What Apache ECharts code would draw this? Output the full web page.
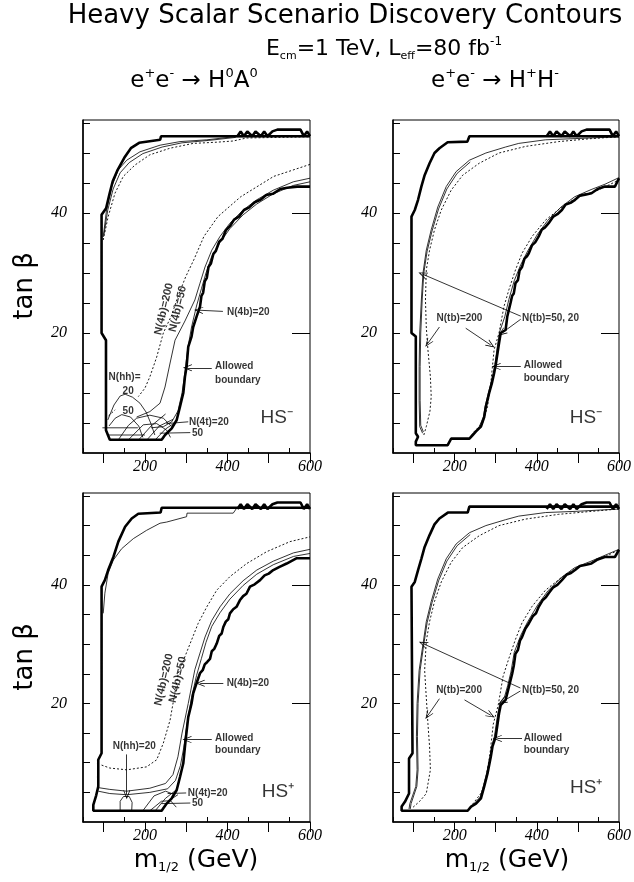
<!DOCTYPE html>
<html>
<head>
<meta charset="utf-8">
<script src="https://cdn.jsdelivr.net/npm/echarts@6/dist/echarts.min.js"></script>
<style>
  html, body { margin: 0; padding: 0; background: #fff; }
  #main { width: 634px; height: 882px; }
</style>
</head>
<body>
<div id="main"></div>
<script>
// ticks (m1/2 in GeV, tan beta)
var xLabelTicks = [200, 400, 600];
var xMajorTicks = [100, 200, 300, 400, 500, 600];
var xMinorTicks = [50, 150, 250, 350, 450, 550];
var yLabelTicks = [20, 40];
var yMinorTicks = [5, 10, 15, 20, 25, 30, 35, 40, 45, 50, 55];

// wavy piece on top of every allowed boundary
var topWave = [[424,52.8],[432,53.6],[440,52.8],[448,53.6],[460,52.8],[468,53.6],[481,52.8],[489,53.6],[497,52.8],[509,53.6],[521,53.9],[577,53.9],[585,52.8],[593,53.6],[600,52.8]];

// ---- panel 1 : e+e- -> H0A0, HS- ----
var p1Boundary = [[600,52.8],[239,52.8],[237,52.2],[186,51.7],[166,50.8],[150,49.2],[134,47.2],[122,45.3],[114,43.1],[106,40.8],[95,39.7],[95,20],[105.7,18.8],[105.7,3.8],[115,2.2],[240.6,2.2],[248.7,3],[265,4.1],[277,5.5],[285,7.7],[293,10],[297,12.7],[301,14.4],[305,17.7],[313,19.4],[317,21],[325,22.7],[333.5,24.4],[337,26.2],[341,26.7],[345,28.6],[350,29.2],[354,31],[360,31.6],[366,33.2],[372,33.7],[380,35.2],[388,35.7],[396,37.1],[406,37.8],[416,38.9],[428,39.4],[440,40.5],[452,40.9],[466,41.8],[480,42.2],[494,43],[510,43.2],[528,44],[545,44.2],[569,44.4],[600,44.4]];
var p1Upper20 = [[99,36],[107,40.5],[119.5,44.4],[135.5,47.2],[156,48.8],[188,50.2],[236.6,51.3],[285,51.9],[350,52.2],[414,52.7],[600,52.8]];
var p1Upper50 = [[101,36.5],[110,40.5],[123,44],[140,46.7],[162,48.4],[195,49.9],[242,51],[290,51.7],[355,52.1],[420,52.6]];
var p1Upper200 = [[99,35.5],[111,39.4],[127.5,43.3],[147.6,46.1],[176,48],[212,49.7],[261,50.8],[317,51.6],[374,51.8],[414,52],[446,52.5],[600,52.7]];
var p1Lower200 = [[600,48.1],[512,46.1],[432,42.7],[377,39.4],[343,36.1],[318.5,32.2],[299,29.4],[280,26.1],[265,23],[244.6,20],[228.6,16],[212,12.7],[200,10.8],[184,9.4]];
var p1Lower50 = [[600,45.8],[559.6,45.2],[511,43.8],[471,42.2],[438,40.5],[406,38.3],[382,36.1],[362,33.8],[345.6,31],[333.5,28.3],[321,25.5],[297,22],[273,18.8],[261,15],[248.7,11],[236.6,8.3],[212,6.9],[180,6]];
var p1Lower20 = [[600,45.2],[560,44.6],[511,43.2],[471,41.5],[438,39.7],[406,37.4],[382,35.1],[362,32.8],[348,30],[337,27.4],[325,24.5],[313,21],[304,17.5],[297,13.5],[290,10],[280,7],[265,5.2],[245,4.4],[215,4.2]];
var p1HH20 = [[110,5.5],[125,8],[140,9.5],[152,9.8],[170,9.3],[188,8.3],[203,6.8],[214,5],[224,3]];
var p1HH50 = [[113,4.5],[128,5.8],[144,6.4],[165,6],[185,4.5],[195,2.6]];
var p1HH50dot = [[112,6.2],[128,7.2]];
var p1Flat1 = [[97,4.2],[183,4.2]];
var p1Flat2 = [[108,3],[200,3]];
var p1T20 = [[135.6,2.2],[160,4.6],[180,5.8],[212,6.3],[244.6,5.8],[265,4.4]];
var p1T50 = [[160,2.2],[196,4.7],[228.6,4.9],[252.7,3.8],[262,2.6]];
var p1Hatch = [[[185,2.2],[215,4.5],[250,6.5]],[[205,2.2],[235,4.5],[268,5.6]],[[225,2.2],[250,4],[276,5.2]]];

// ---- panel 2 : e+e- -> H+H-, HS- ----
var p2Boundary = [[600,52.8],[236,52.8],[231,51.9],[183,51.8],[163,50.8],[151,50],[139,48.3],[127,46.3],[119,44.4],[111,42.2],[103,40.5],[95,39.4],[95,20],[105.5,19.4],[105.5,3.3],[111,2.7],[105.5,1.9],[105.5,1.3],[183,1.3],[191.6,2.4],[236,2.4],[244,3],[252,3.6],[264,4.4],[272,6],[276,7.7],[284,10],[290.5,11.6],[296,13.3],[300,14.7],[308,18.3],[312,20],[324,20.5],[328,22.7],[336,25],[340,26.2],[344,26.6],[348,28.3],[354,28.8],[358,30.4],[364,31],[370,32.4],[376,32.8],[380.5,33.3],[388,34.6],[396,35.1],[404.6,36.1],[412,37.2],[420,37.6],[428.8,38.3],[440,39.4],[450,39.8],[461,40.5],[470,41.4],[482,41.7],[493,42.2],[505,42.9],[520,43.1],[533,43.3],[548,44],[565.6,44.4],[590,44.4],[600,45.8]];
var p2Upper20 = [[122,3.3],[115,4.4],[113.6,8.8],[113.6,14.4],[115,20],[119,25.5],[123,30],[131,33.8],[143,37.2],[159,41],[179.5,44.4],[203.6,46.9],[236,48.8],[276,50],[324,51],[356,51.6],[421,52.2],[493,52.4],[600,52.7]];
var p2Upper50 = [[124,3.5],[117.5,4.6],[116,8.8],[116,14.4],[117.5,20],[121,25.5],[125,30],[133,33.6],[145,37],[161,40.7],[181,44],[206,46.6],[238,48.5]];
var p2Upper200 = [[125,3],[131,4.4],[140,7],[143,9.4],[141,12.7],[135,17.2],[131,21],[129,25.5],[131,30.5],[139,33.8],[151,37.2],[167.5,40.5],[191.6,43.8],[219.6,46.3],[260,48.3],[308,50],[372.6,51.1],[453,51.9],[533,52.4],[600,52.7]];
var p2Lower200 = [[236,2.4],[248,3.6],[268,5],[280,7.7],[288,11.6],[296,17.2],[308,20],[320,24.4],[332,27.2],[348,30.5],[364,33.3],[388.6,36.1],[421,38.8],[461,41],[501,42.7],[549,43.8],[600,45.5]];
var p2Lower50 = [[240,2.6],[260,4.4],[270,6],[274,7.7],[282,10],[288,11.6],[294,13.3],[298,14.7],[305,18.3],[310,20.3],[322,22.7],[332,25.6],[345,28.7],[361,31.4],[378,33.7],[402,36.5],[427,38.8],[459,41],[492,42.7],[532,43.9],[566,44.8],[600,45.9]];

// ---- panel 3 : e+e- -> H0A0, HS+ ----
var p3Boundary = [[600,53],[240.6,53],[238,52.2],[184,52],[168,51.2],[152,49.8],[135.6,47.3],[123.6,44.7],[111,42.5],[103,40.8],[95,39.7],[95,11.6],[87,10.5],[87,6],[82,4.5],[75,2.9],[75,1.9],[240.6,1.9],[244.6,2.3],[252.7,3.1],[265,4],[277,5.4],[285,7.6],[293,9.9],[297,12.7],[299.6,14.4],[305,17.7],[313,20],[317,21.7],[325,23.4],[333.5,25.1],[340,25.6],[345,26.6],[351,27],[357.7,27.5],[362,28.8],[368,29.2],[374,30.1],[380,31.4],[386,31.8],[390,32.9],[396,33.8],[402,34.2],[406,35.2],[414,35.9],[422,36.3],[430,37.4],[438,38.1],[446,38.5],[454.6,39.7],[466,40.1],[479,40.8],[490,41.6],[500,41.9],[511,42.5],[525,43],[543.5,43.6],[568,44.5],[600,44.5]];
var p3Upper = [[99,35.2],[103,38.6],[111,42],[123.6,44.2],[143.6,46.1],[172,47.8],[204,49.2],[236.6,50.4],[252.7,50.6],[301,51.5],[302,52.1],[414,52.1],[422,52.9],[600,52.9]];
var p3Lower200 = [[95,9.6],[115,9.1],[156,8.8],[204,9.3],[228.6,10.5],[244.6,13.3],[261,17.2],[281,25.1],[297,27.9],[313,30.7],[329,33.5],[350,36.3],[374,39.1],[406,41.4],[446.6,43.6],[495,45.6],[551.6,47.3],[600,48.1]];
var p3Lower50 = [[600,46],[560,45.4],[511,44],[471,42.5],[438,40.7],[406,38.5],[382,36.3],[362,34],[345.6,31.2],[333.5,28.5],[321,25.7],[305,20],[290,15],[280,11],[268,8],[250,6.5],[212,5.7],[156,5.2],[115,5.5],[87,5.8]];
var p3Lower20 = [[600,45.3],[560,44.8],[511,43.4],[471,41.8],[438,39.9],[406,37.6],[382,35.3],[362,33],[348,30.3],[337,27.6],[325,24.7],[313,21],[302,16.5],[294,12.5],[286,9.5],[274,7],[255,5.6],[212,5],[156,4.6],[115,4.8],[87,5.2]];
var p3HH20 = [[140,1.9],[140,3.5],[148,4.3],[162,4.3],[169,3.3],[168,1.9]];
var p3T20 = [[195,1.9],[222,4.4],[250,5.2],[272,4.6]];
var p3T50 = [[212,1.9],[240,3.5],[262,3.6],[276,2.5]];
var p3Hatch = [[[225,1.9],[250,4],[272,5.2]],[[240,1.9],[262,3.8],[280,4.6]]];

// ---- panel 4 : e+e- -> H+H-, HS+ ----
var p4Boundary = [[600,53.2],[235.8,53.2],[231.7,52.2],[183.5,52.2],[163,51.2],[151,50.2],[139,48.4],[127,46.4],[119,44.4],[111,42.5],[103,40.5],[95,39.7],[97.5,39.7],[97.5,11.6],[89,10.7],[89,4.8],[79,3.4],[71,2.6],[71,1.9],[231.7,1.9],[240,2.6],[252,3.1],[264,4],[272,6],[280,8.2],[288,11],[292,12.7],[300,14.4],[308,18.3],[312,19.7],[324,20.6],[332,22.8],[340,25],[344,26.4],[348,28.4],[354,29],[359,30.6],[364,31.2],[372,32.6],[380.5,33.5],[390,34.7],[398,35.2],[404.6,36.3],[414,37.4],[422,37.9],[428.8,38.6],[440,39.6],[450,40],[461,40.8],[472,41.7],[483,42],[493,42.5],[505,43.2],[520,43.4],[533,43.6],[548,44.3],[565.6,44.7],[590,44.7],[600,45.9]];
var p4Upper20 = [[89,2.2],[91,3.1],[105.5,6],[108.6,8.8],[107,14.4],[108.6,20],[113.6,25.6],[123,30],[131,33.8],[143,37.2],[159,41],[179.5,44.4],[203.6,46.9],[236,48.8],[276,50],[324,51],[356,51.6],[421,52.2],[493,52.4],[600,52.8]];
var p4Upper50 = [[92,2.2],[94,3.1],[108,6],[111,8.8],[109.5,14.4],[111,20],[116,25.6],[125,30],[133,33.6],[145,37],[161,40.7],[181,44],[206,46.6],[238,48.5]];
var p4Upper200 = [[99,2.5],[115,3.5],[131,4.8],[141,8.8],[139,12.7],[135,16.6],[131,21],[127,25.6],[131,30.5],[139,33.8],[151,37.2],[167.5,40.5],[191.6,43.8],[219.6,46.3],[260,48.3],[308,50],[372.6,51.1],[453,51.9],[533,52.4],[600,52.8]];
var p4Lower200 = [[232,1.9],[248,3.4],[266,5],[278,8],[286,11.5],[294,16.5],[306,19.7],[318,24.6],[332,27.6],[348,30.8],[364,33.6],[388.6,36.4],[421,39.1],[461,41.3],[501,43],[549,44.2],[600,45.9]];
var p4Lower50 = [[236,2.2],[250,3.3],[262,4.2],[270,6],[278,8.2],[286,11],[290,12.7],[297,14.5],[305,18.3],[310,20],[321,21],[329,23],[337,25.3],[345,28.6],[361,31.5],[378,33.8],[402,36.6],[427,39],[459,41.2],[492,42.9],[532,44],[566,45],[600,46]];

// ---- text and arrows, per panel ----
var p1Notes = [[399,23.5,'N(4b)=20'],[370,14.4,'Allowed'],[370,12.2,'boundary'],[112,12.6,'N(hh)='],[146,10.3,'20'],[146,6.9,'50'],[307,5.2,'N(4t)=20'],[314,3.3,'50']];
var p1Rot = [[246,24,'N(4b)=200'],[280,24,'N(4b)=50']];
var p1Arrows = [[[389,23.6],[330,23.8]],[[362,14.2],[303,14.2]]];
var p1Ticks = [[[305,5.2],[252,4.9]],[[310,3.4],[236,3.3]]];

var p2Notes = [[156,22.5,'N(tb)=200'],[364,22.5,'N(tb)=50, 20'],[368,14.6,'Allowed'],[368,12.4,'boundary']];
var p2Arrows = [[[163,21],[135,18.3]],[[227,20.8],[288,18]],[[361,22.8],[122,29.8]],[[361,22.3],[315,20]],[[361,14.4],[301,14.4]]];

var p3Notes = [[122,12.7,'N(hh)=20'],[398,23.4,'N(4b)=20'],[370,14.2,'Allowed'],[370,12.1,'boundary'],[304,4.9,'N(4t)=20'],[314,3.2,'50']];
var p3Rot = [[246,24,'N(4b)=200'],[280,24,'N(4b)=50']];
var p3Arrows = [[[156,11.4],[156,4.6]],[[390,23.4],[334,23.4]],[[362,13.9],[302,13.9]]];
var p3Ticks = [[[300,4.9],[255,4.8]],[[310,3.2],[240,3.1]]];

var p4Notes = [[155,22.3,'N(tb)=200'],[364,22.3,'N(tb)=50, 20'],[368,14.2,'Allowed'],[368,12.1,'boundary']];
var p4Arrows = [[[163,20.8],[135,18]],[[224,20.6],[288,18]],[[360,22.6],[123,30.1]],[[360,22.1],[316,20.3]],[[364,14.1],[304,14.1]]];

var hsLabels = ['HS\u207B', 'HS\u207B', 'HS\u207A', 'HS\u207A'];
var hsAt = [[480,5.8],[480,5.8],[483,5.1],[481,5.7]];

// ---------------------------------------------------------------
var chart = echarts.init(document.getElementById('main'));

var grids = [
  { left: 83, top: 120, width: 227, height: 333 },
  { left: 393, top: 120, width: 228, height: 333 },
  { left: 83, top: 493, width: 227, height: 329 },
  { left: 393, top: 493, width: 228, height: 329 }
];
grids.forEach(function (g) { g.show = true; g.borderColor = '#000'; g.borderWidth = 1; g.backgroundColor = 'transparent'; });

var numFont = { fontFamily: 'Liberation Serif', fontStyle: 'italic', fontSize: 16, color: '#000' };
var xAxes = [], yAxes = [];
for (var i = 0; i < 4; i++) {
  xAxes.push({
    type: 'value', gridIndex: i, min: 50, max: 600,
    axisLine: { show: true, onZero: false, lineStyle: { color: '#000', width: 1.5 } },
    axisTick: { show: true, inside: true, length: 5, customValues: xMinorTicks, lineStyle: { color: '#000', width: 1 } },
    axisLabel: Object.assign({ customValues: xLabelTicks, margin: 6 }, numFont),
    splitLine: { show: false }
  });
  yAxes.push({
    type: 'value', gridIndex: i, min: 0, max: 55.5,
    axisLine: { show: true, onZero: false, lineStyle: { color: '#000', width: 1.5 } },
    axisTick: { show: true, inside: true, length: 7, customValues: yMinorTicks, lineStyle: { color: '#000', width: 1 } },
    axisLabel: Object.assign({ customValues: yLabelTicks, margin: 16 }, numFont),
    splitLine: { show: false }
  });
}
// long ticks, drawn by overlay axes
for (var j = 0; j < 4; j++) {
  xAxes.push({
    type: 'value', gridIndex: j, min: 50, max: 600,
    axisLine: { show: false }, axisLabel: { show: false }, splitLine: { show: false },
    axisTick: { show: true, inside: true, length: 10, customValues: xMajorTicks, lineStyle: { color: '#000', width: 1 } }
  });
  yAxes.push({
    type: 'value', gridIndex: j, min: 0, max: 55.5,
    axisLine: { show: false }, axisLabel: { show: false }, splitLine: { show: false },
    axisTick: { show: true, inside: true, length: 18, customValues: yLabelTicks, lineStyle: { color: '#000', width: 1 } }
  });
}

var series = [];
function curve(g, data, kind) {
  var st = { color: '#000', width: 0.8, type: 'solid' };
  if (kind === 'thick') { st.width = 2.6; }
  if (kind === 'dot') { st.type = [2, 2]; st.width = 0.9; }
  series.push({
    type: 'line', xAxisIndex: g, yAxisIndex: g, data: data,
    symbol: 'none', showSymbol: false, silent: true, animation: false,
    lineStyle: st, z: kind === 'thick' ? 3 : 2
  });
}
var arrowHead = 'path://M0,10 L5,0 L10,10 L9,10 L5,2.5 L1,10 Z';
function pointers(g, list, withHead) {
  series.push({
    type: 'line', xAxisIndex: g, yAxisIndex: g, data: [], silent: true, animation: false,
    markLine: {
      silent: true, animation: false,
      symbol: ['none', withHead ? arrowHead : 'none'], symbolSize: [7, 9],
      label: { show: false },
      lineStyle: { color: '#000', width: 0.8, type: 'solid' },
      data: list.map(function (a) { return [{ coord: a[0] }, { coord: a[1] }]; })
    }
  });
}
function notes(g, list, rotate, size) {
  series.push({
    type: 'scatter', xAxisIndex: g, yAxisIndex: g, symbolSize: 0, silent: true, animation: false, z: 5,
    data: list.map(function (t) { return { value: [t[0], t[1]], name: t[2] }; }),
    label: {
      show: true, formatter: '{b}', position: rotate ? 'inside' : 'right', distance: 0,
      rotate: rotate || 0, color: '#000', fontFamily: 'Liberation Sans', fontWeight: 'bold',
      fontSize: size || 10
    }
  });
}

// panel 1
curve(0, p1Boundary, 'thick'); curve(0, topWave, 'thick');
curve(0, p1Upper20); curve(0, p1Upper50); curve(0, p1Upper200, 'dot');
curve(0, p1Lower20); curve(0, p1Lower50); curve(0, p1Lower200, 'dot');
curve(0, p1HH20); curve(0, p1HH50); curve(0, p1HH50dot, 'dot');
curve(0, p1Flat1); curve(0, p1Flat2); curve(0, p1T20); curve(0, p1T50);
p1Hatch.forEach(function (h) { curve(0, h); });
notes(0, p1Notes); notes(0, p1Rot, 77, 11);
pointers(0, p1Arrows, true); pointers(0, p1Ticks, false);

// panel 2
curve(1, p2Boundary, 'thick'); curve(1, topWave, 'thick');
curve(1, p2Upper20); curve(1, p2Upper50); curve(1, p2Upper200, 'dot');
curve(1, p2Lower50); curve(1, p2Lower200, 'dot');
notes(1, p2Notes); pointers(1, p2Arrows, true);

// panel 3
curve(2, p3Boundary, 'thick'); curve(2, topWave, 'thick');
curve(2, p3Upper);
curve(2, p3Lower20); curve(2, p3Lower50); curve(2, p3Lower200, 'dot');
curve(2, p3HH20); curve(2, p3T20); curve(2, p3T50);
p3Hatch.forEach(function (h) { curve(2, h); });
notes(2, p3Notes); notes(2, p3Rot, 77, 11);
pointers(2, p3Arrows, true); pointers(2, p3Ticks, false);

// panel 4
curve(3, p4Boundary, 'thick'); curve(3, topWave, 'thick');
curve(3, p4Upper20); curve(3, p4Upper50); curve(3, p4Upper200, 'dot');
curve(3, p4Lower50); curve(3, p4Lower200, 'dot');
notes(3, p4Notes); pointers(3, p4Arrows, true);

// HS labels
for (var k = 0; k < 4; k++) {
  series.push({
    type: 'scatter', xAxisIndex: k, yAxisIndex: k, symbolSize: 0, silent: true, animation: false, z: 5,
    data: [{ value: hsAt[k], name: hsLabels[k] }],
    label: { show: true, formatter: '{b}', position: 'right', distance: 0, color: '#000', fontFamily: 'Liberation Sans', fontSize: 19 }
  });
}

var titleFont = 'DejaVu Sans';
function txt(x, y, text, size, rich, rot) {
  return {
    type: 'text', x: x, y: y, rotation: rot || 0, silent: true,
    style: { text: text, rich: rich, fill: '#000', font: size + 'px "' + titleFont + '"', align: 'center', verticalAlign: 'middle' }
  };
}
var big = 22;
var richSub = {
  n: { fontSize: big, fontFamily: titleFont, lineHeight: 26 },
  s: { fontSize: 11, fontFamily: titleFont, verticalAlign: 'bottom', lineHeight: 26 },
  p: { fontSize: 12, fontFamily: titleFont, verticalAlign: 'top', lineHeight: 26 }
};
var richProc = {
  n: { fontSize: 23, fontFamily: titleFont, lineHeight: 28 },
  p: { fontSize: 13, fontFamily: titleFont, verticalAlign: 'top', lineHeight: 28 }
};
var richM = {
  n: { fontSize: 25, fontFamily: titleFont, lineHeight: 28 },
  s: { fontSize: 13, fontFamily: titleFont, verticalAlign: 'bottom', lineHeight: 28 }
};

chart.setOption({
  animation: false,
  backgroundColor: '#fff',
  grid: grids,
  xAxis: xAxes,
  yAxis: yAxes,
  series: series,
  graphic: [
    txt(345, 16, 'Heavy Scalar Scenario Discovery Contours', 26),
    txt(384, 49, '{n|E}{s|cm}{n|=1 TeV, L}{s|eff}{n|=80 fb}{p|-1}', big, richSub),
    txt(194, 81, '{n|e}{p|+}{n|e}{p|-}{n| \u2192 H}{p|0}{n|A}{p|0}', big, richProc),
    txt(495, 81, '{n|e}{p|+}{n|e}{p|-}{n| \u2192 H}{p|+}{n|H}{p|-}', big, richProc),
    txt(25, 286, 'tan \u03B2', 26, null, Math.PI / 2),
    txt(25, 657, 'tan \u03B2', 26, null, Math.PI / 2),
    txt(196, 860, '{n|m}{s|1/2}{n| (GeV)}', big, richM),
    txt(507, 860, '{n|m}{s|1/2}{n| (GeV)}', big, richM)
  ]
});
</script>
</body>
</html>
